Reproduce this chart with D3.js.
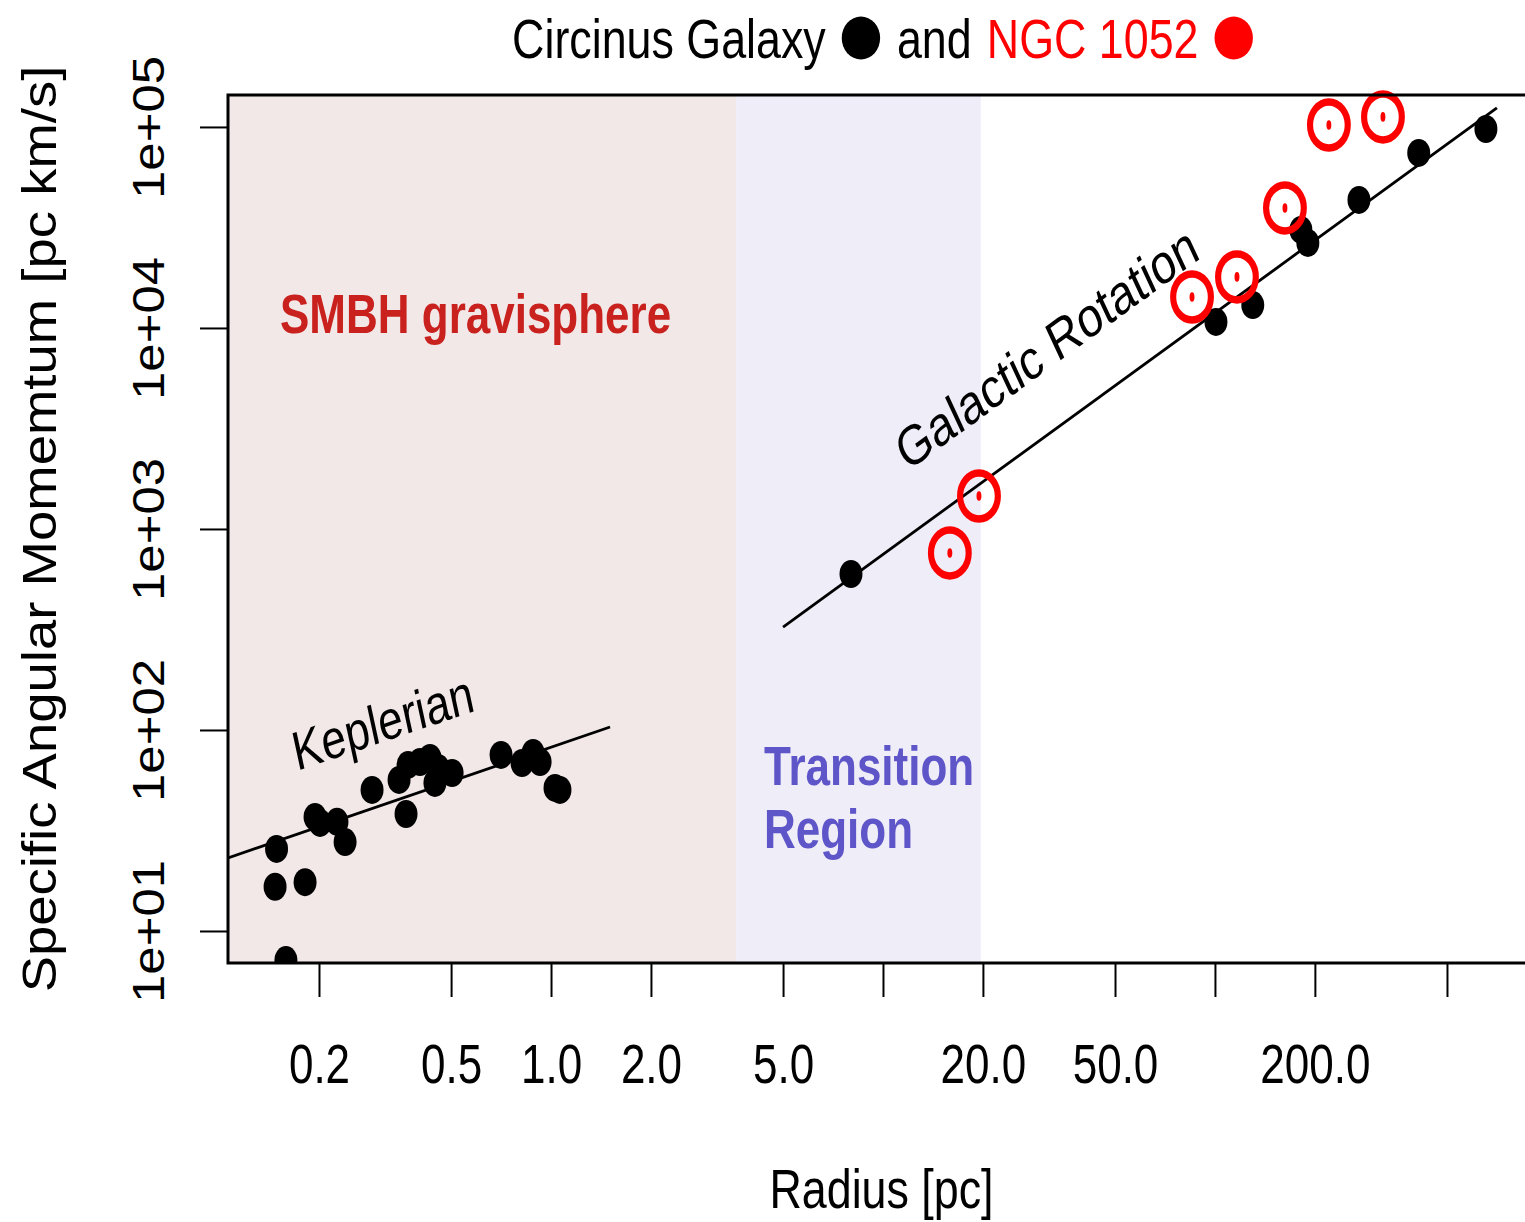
<!DOCTYPE html>
<html>
<head>
<meta charset="utf-8">
<script src="https://cdn.jsdelivr.net/npm/d3@7"></script>
<style>
  html, body { margin: 0; padding: 0; background: #fff; }
  svg { display: block; }
  text { font-family: "Liberation Sans", Arial, Helvetica, sans-serif; }
</style>
</head>
<body>
<svg id="chart" width="1525" height="1222"></svg>
<script>
// ---------------- data ----------------
// Circinus Galaxy, Keplerian zone (radius pc, specific angular momentum pc km/s)
const keplerRadius = [0.149, 0.1475, 0.1816, 0.159, 0.1946, 0.2015, 0.2266, 0.2397, 0.289, 0.3485, 0.3658, 0.371, 0.403, 0.432, 0.457, 0.447, 0.5035, 0.707, 0.818, 0.883, 0.927, 1.028, 1.064];
const keplerJ      = [25.6, 16.6, 17.5, 7.17, 36.9, 34.5, 34.9, 27.7, 50.3, 56.4, 38.2, 67.0, 69.3, 72.6, 64.7, 54.5, 61.1, 75.1, 68.5, 76.8, 69.3, 51.5, 50.3];
// Circinus Galaxy, galactic rotation zone
const circinusRadius = [8.01, 100.7, 130, 181.5, 190.5, 271.5, 411, 655];
const circinusJ      = [597, 10715, 13000, 30750, 26500, 43350, 74300, 97700];
// NGC 1052
const ngcRadius = [15.9, 19.46, 85.3, 116.5, 162.5, 220.4, 320.7];
const ngcJ      = [760, 1459, 14260, 17950, 39540, 102300, 112200];
// fit lines (end points)
const keplerFitR = [0.1064, 1.506];
const keplerFitJ = [23.1, 103.5];
const galacticFitR = [5.0, 707];
const galacticFitJ = [325, 124400];
// regions (radius bounds)
const smbhRegion = [0.1064, 3.61];
const transitionRegion = [3.61, 19.7];
// ticks
const xTicks = [0.2, 0.5, 1, 2, 5, 10, 20, 50, 100, 200, 500];
const xTickLabels = {0.2: "0.2", 0.5: "0.5", 1: "1.0", 2: "2.0", 5: "5.0", 20: "20.0", 50: "50.0", 200: "200.0"};
const yTicks = [10, 100, 1000, 10000, 100000];
const yTickLabels = ["1e+01", "1e+02", "1e+03", "1e+04", "1e+05"];

// ---------------- layout ----------------
const svg = d3.select("#chart");
const L = 228, R = 1527, T = 95, B = 963;
const SQ = 0.8; // horizontal squeeze of the original rendering

const x = d3.scaleLog().domain([0.1064, 871]).range([L, R]);
const y = d3.scaleLog().domain([6.93, 144200]).range([B, T]);

svg.append("defs").append("clipPath").attr("id", "plotclip")
  .append("rect").attr("x", L).attr("y", T - 6).attr("width", R - L).attr("height", B - T + 6);

const plot = svg.append("g").attr("clip-path", "url(#plotclip)");

// shaded regions
plot.append("rect")
  .attr("x", x(smbhRegion[0])).attr("y", T)
  .attr("width", x(smbhRegion[1]) - x(smbhRegion[0])).attr("height", B - T)
  .attr("fill", "#F2E8E8");
plot.append("rect")
  .attr("x", x(transitionRegion[0])).attr("y", T)
  .attr("width", x(transitionRegion[1]) - x(transitionRegion[0])).attr("height", B - T)
  .attr("fill", "#EFEDF8");

// fit lines
const line = d3.line().x(d => x(d[0])).y(d => y(d[1]));
plot.append("path").datum(d3.zip(keplerFitR, keplerFitJ))
  .attr("d", line).attr("fill", "none").attr("stroke", "#000").attr("stroke-width", 2.8);
plot.append("path").datum(d3.zip(galacticFitR, galacticFitJ))
  .attr("d", line).attr("fill", "none").attr("stroke", "#000").attr("stroke-width", 2.8);

// black points
const blackPts = d3.zip(keplerRadius, keplerJ).concat(d3.zip(circinusRadius, circinusJ));
plot.selectAll("g.bpt").data(blackPts).join("g").attr("class", "bpt")
  .attr("transform", d => `translate(${x(d[0])},${y(d[1])}) scale(${SQ + 0.02},1)`)
  .append("circle").attr("r", 14).attr("fill", "#000");

// red sun symbols
const redG = plot.selectAll("g.rpt").data(d3.zip(ngcRadius, ngcJ)).join("g").attr("class", "rpt")
  .attr("transform", d => `translate(${x(d[0])},${y(d[1])}) scale(${SQ + 0.02},1)`);
redG.append("circle").attr("r", 23).attr("fill", "none").attr("stroke", "#FF0000").attr("stroke-width", 7.5);
redG.append("ellipse").attr("rx", 3).attr("ry", 4.8).attr("fill", "#FF0000");

// helper for squeezed text
function sqText(parent, txt, px, py, opts = {}) {
  const g = parent.append("g")
    .attr("transform", `translate(${px},${py}) scale(${opts.sq ?? SQ},1) rotate(${opts.rot ?? 0})`);
  const t = g.append("text").text(txt)
    .attr("font-size", opts.size ?? 55)
    .attr("fill", opts.fill ?? "#000")
    .attr("font-weight", opts.weight ?? "normal")
    .attr("text-anchor", opts.anchor ?? "start");
  return t;
}

// region labels
sqText(svg, "SMBH gravisphere", 280, 333, {weight: "bold", fill: "#C9211E"});
sqText(svg, "Transition", 764, 785, {weight: "bold", fill: "#5E55C8"});
sqText(svg, "Region", 764, 848, {weight: "bold", fill: "#5E55C8"});
// line labels
sqText(svg, "Keplerian", 297, 771, {rot: -15.1});
sqText(svg, "Galactic Rotation", 907, 472, {rot: -30.2, size: 56});

// plot box
svg.append("rect").attr("x", L).attr("y", T).attr("width", R - L + 10).attr("height", B - T)
  .attr("fill", "none").attr("stroke", "#000").attr("stroke-width", 3);

// x axis
const xAxis = d3.axisBottom(x).tickValues(xTicks).tickSize(34).tickSizeOuter(0)
  .tickFormat(d => xTickLabels[d] ?? "");
const xg = svg.append("g").attr("transform", `translate(0,${B})`).call(xAxis);
xg.select(".domain").remove();
xg.selectAll(".tick line").attr("stroke", "#000").attr("stroke-width", 2);
xg.selectAll(".tick text")
  .attr("y", 0).attr("dy", null)
  .attr("transform", `translate(0,${1083 - B}) scale(${SQ},1)`)
  .attr("font-size", 55).attr("font-family", "Liberation Sans, Arial, sans-serif")
  .attr("fill", "#000").attr("text-anchor", "middle");

// y axis
const yAxis = d3.axisLeft(y).tickValues(yTicks).tickSize(28).tickSizeOuter(0)
  .tickFormat((d, i) => yTickLabels[i]);
const yg = svg.append("g").attr("transform", `translate(${L},0)`).call(yAxis);
yg.select(".domain").remove();
yg.selectAll(".tick line").attr("stroke", "#000").attr("stroke-width", 2);
yg.selectAll(".tick text")
  .attr("x", 0).attr("dy", null)
  .attr("transform", `translate(${164 - L},0) scale(0.88,1) rotate(-90)`)
  .attr("font-size", 51).attr("font-family", "Liberation Sans, Arial, sans-serif")
  .attr("fill", "#000").attr("text-anchor", "middle");

// axis titles
sqText(svg, "Radius [pc]", (L + R) / 2 + 4, 1208, {anchor: "middle", size: 56});
sqText(svg, "Specific Angular Momemtum [pc km/s]", 56, (T + B) / 2, {anchor: "middle", rot: -90, sq: 0.88, size: 54.5});

// title: "Circinus Galaxy ● and NGC 1052 ●"
const titleG = svg.append("g").attr("transform", `translate(${(L + R) / 2 + 5},58) scale(${SQ},1)`);
const pieces = [
  {type: "text", txt: "Circinus Galaxy", fill: "#000"},
  {type: "gap", w: 20},
  {type: "dot", fill: "#000"},
  {type: "gap", w: 21},
  {type: "text", txt: "and", fill: "#000"},
  {type: "gap", w: 19},
  {type: "text", txt: "NGC 1052", fill: "#FF0000"},
  {type: "gap", w: 20},
  {type: "dot", fill: "#FF0000"}
];
const dotR = 24;
let cursor = 0;
const placed = [];
pieces.forEach(p => {
  if (p.type === "text") {
    const t = titleG.append("text").text(p.txt).attr("font-size", 56).attr("fill", p.fill).attr("x", cursor);
    const w = t.node().getComputedTextLength();
    placed.push({node: t, start: cursor});
    cursor += w;
  } else if (p.type === "gap") {
    cursor += p.w;
  } else {
    const e = titleG.append("ellipse").attr("cx", cursor + dotR).attr("cy", -20).attr("rx", dotR).attr("ry", 21.5).attr("fill", p.fill);
    placed.push({node: e, start: cursor, dot: true});
    cursor += 2 * dotR;
  }
});
const half = cursor / 2;
placed.forEach(p => {
  if (p.dot) p.node.attr("cx", +p.node.attr("cx") - half);
  else p.node.attr("x", p.start - half);
});
</script>
</body>
</html>
